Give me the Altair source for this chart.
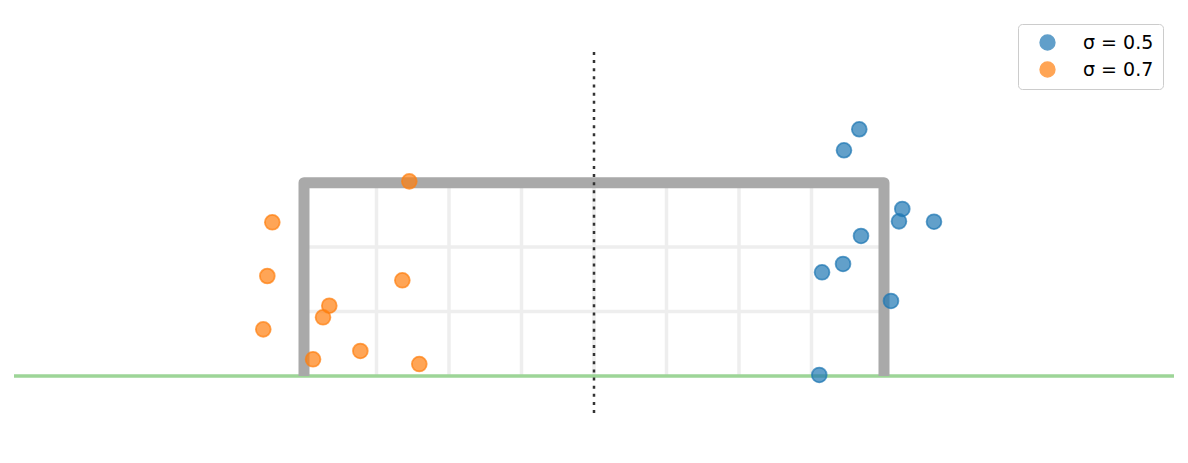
import altair as alt
import pandas as pd

# ---- data (metres) ----
blue_x = [3.348, 3.155, 3.891, 3.849, 4.291, 3.370, 3.143, 2.878, 3.748, 2.843]
blue_y = [3.114, 2.849, 2.108, 1.952, 1.947, 1.767, 1.414, 1.309, 0.947, 0.013]
orange_x = [-2.331, -4.060, -4.123, -2.419, -3.341, -3.420, -4.174, -2.949, -3.546, -2.205]
orange_y = [2.457, 1.940, 1.262, 1.208, 0.887, 0.741, 0.589, 0.316, 0.211, 0.151]
series_labels = ["σ = 0.5", "σ = 0.7"]
series_colors = ["#1f77b4", "#ff7f0e"]

goal_x = [-3.66, -3.66, 3.66, 3.66]
goal_y = [0.0, 2.44, 2.44, 0.0]
net_x = [-2.745, -1.83, -0.915, 0.0, 0.915, 1.83, 2.745]
net_y = [0.813, 1.627]
ground_x = [-7.32, 7.32]
center_y = [4.09, -0.467]

X_DOM = [-7.3958, 7.3958]
Y_DOM = [-0.9087, 4.6444]

xs = alt.Scale(domain=X_DOM, nice=False, zero=False)
ys = alt.Scale(domain=Y_DOM, nice=False, zero=False)

pts = pd.DataFrame({
    "x": blue_x + orange_x,
    "y": blue_y + orange_y,
    "s": [series_labels[0]] * len(blue_x) + [series_labels[1]] * len(orange_x),
})

net_v = pd.DataFrame({"x": net_x, "y": [goal_y[0]] * len(net_x), "y2": [goal_y[1]] * len(net_x)})
net_h = pd.DataFrame({"y": net_y, "x": [goal_x[0]] * len(net_y), "x2": [goal_x[3]] * len(net_y)})
ground = pd.DataFrame({"x": [ground_x[0]], "x2": [ground_x[1]], "y": [0.0]})
goal = pd.DataFrame({"x": goal_x, "y": goal_y, "o": list(range(len(goal_x)))})
center = pd.DataFrame({"x": [0.0], "y": [center_y[0]], "y2": [center_y[1]]})

net_v_layer = alt.Chart(net_v).mark_rule(color="#eeeeee", strokeWidth=3.5).encode(
    x=alt.X("x:Q", scale=xs, axis=None),
    y=alt.Y("y:Q", scale=ys, axis=None),
    y2="y2:Q",
)
net_h_layer = alt.Chart(net_h).mark_rule(color="#eeeeee", strokeWidth=3.5).encode(
    x=alt.X("x:Q", scale=xs, axis=None),
    x2="x2:Q",
    y=alt.Y("y:Q", scale=ys, axis=None),
)
ground_layer = alt.Chart(ground).mark_rule(color="#9dd597", strokeWidth=3.5).encode(
    x=alt.X("x:Q", scale=xs, axis=None),
    x2="x2:Q",
    y=alt.Y("y:Q", scale=ys, axis=None),
)
goal_layer = alt.Chart(goal).mark_line(
    color="#a9a9a9", strokeWidth=11, strokeJoin="round", strokeCap="butt"
).encode(
    x=alt.X("x:Q", scale=xs, axis=None),
    y=alt.Y("y:Q", scale=ys, axis=None),
    order="o:O",
)
center_layer = alt.Chart(center).mark_rule(
    color="#333333", strokeWidth=2.5, strokeDash=[3, 5.14]
).encode(
    x=alt.X("x:Q", scale=xs, axis=None),
    y=alt.Y("y:Q", scale=ys, axis=None),
    y2="y2:Q",
)

cscale = alt.Scale(domain=series_labels, range=series_colors)
leg = alt.Legend(
    orient="none", legendX=1010, legendY=16, title=None,
    padding=9, symbolOffset=11, labelOffset=26, rowPadding=6,
    labelFont="DejaVu Sans", labelFontSize=19, labelColor="black",
    fillColor="white", strokeColor="#cccccc", cornerRadius=4,
    symbolSize=220, symbolStrokeWidth=1.5, symbolType="circle",
    symbolOpacity=0.7,
)
pts_fill = alt.Chart(pts).mark_circle(
    size=220, opacity=1, fillOpacity=0.7, strokeWidth=0
).encode(
    x=alt.X("x:Q", scale=xs, axis=None),
    y=alt.Y("y:Q", scale=ys, axis=None),
    color=alt.Color("s:N", scale=cscale, legend=leg),
)
pts_ring = alt.Chart(pts).mark_point(
    filled=False, shape="circle", size=220, opacity=1, strokeOpacity=0.7, strokeWidth=1.8
).encode(
    x=alt.X("x:Q", scale=xs, axis=None),
    y=alt.Y("y:Q", scale=ys, axis=None),
    color=alt.Color("s:N", scale=cscale, legend=None),
)

chart = alt.layer(
    net_v_layer, net_h_layer, ground_layer, goal_layer, center_layer, pts_fill, pts_ring
).properties(
    width=1172, height=440, padding=0
).configure_view(stroke=None)

chart.save("out.html", embed_options={"renderer": "svg", "actions": False})
